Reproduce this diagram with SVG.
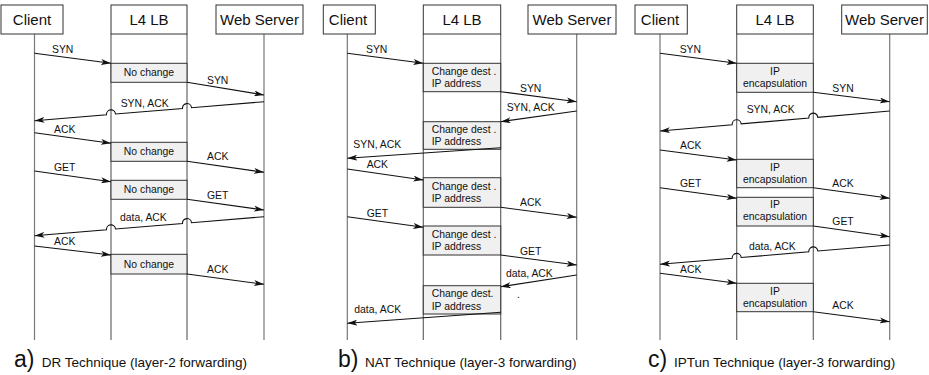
<svg xmlns="http://www.w3.org/2000/svg" width="929" height="375" viewBox="0 0 929 375">
<style>
text{font-family:"Liberation Sans",Arial,sans-serif;fill:#111}
.hd{font-size:15px;text-anchor:middle}
.lb{font-size:10.4px}
.bt{font-size:10.4px}
.c{text-anchor:middle}
.cap{font-size:13.5px}
.big{font-size:23px}
.hbox{fill:#fff;stroke:#333;stroke-width:1}
.pbox{fill:#f0f0f0;stroke:#333;stroke-width:1}
.life{stroke:#777;stroke-width:1.2;fill:none}
.col{stroke:#666;stroke-width:1.2;fill:none}
.msg{stroke:#111;stroke-width:1.1;fill:none;marker-end:url(#ah)}
</style>
<defs>
<marker id="ah" viewBox="0 0 10 6" refX="10" refY="3" markerWidth="10" markerHeight="6" markerUnits="userSpaceOnUse" orient="auto">
<path d="M0,0 L10,3 L0,6 L2.5,3 z" fill="#111"/>
</marker>
</defs>

<!-- Panel a -->
<g id="a-client"><line class="life" x1="34.5" y1="34" x2="34.5" y2="340"/><rect class="hbox" x="1" y="5" width="62" height="29"/><text class="hd" x="32" y="25.3">Client</text></g>
<g id="a-lb"><line class="col" x1="111" y1="34" x2="111" y2="340"/><line class="col" x1="187" y1="34" x2="187" y2="340"/><rect class="hbox" x="111" y="5" width="76" height="29"/><text class="hd" x="149" y="25.3">L4 LB</text></g>
<g id="a-server"><line class="life" x1="264" y1="34" x2="264" y2="340"/><rect class="hbox" x="216" y="5" width="87" height="29"/><text class="hd" x="259.5" y="25.3">Web Server</text></g>
<g id="a-p1"><rect class="pbox" x="111" y="63.3" width="76" height="19"/><text class="bt c" x="149" y="76.3">No change</text></g>
<g id="a-p2"><rect class="pbox" x="111" y="142.3" width="76" height="19"/><text class="bt c" x="149" y="155.3">No change</text></g>
<g id="a-p3"><rect class="pbox" x="111" y="180.3" width="76" height="19"/><text class="bt c" x="149" y="193.3">No change</text></g>
<g id="a-p4"><rect class="pbox" x="111" y="254.3" width="76" height="19.7"/><text class="bt c" x="149" y="267.6">No change</text></g>

<!-- Panel b -->
<g id="b-client"><line class="life" x1="347.3" y1="34" x2="347.3" y2="340"/><rect class="hbox" x="323.3" y="5" width="52" height="29"/><text class="hd" x="348" y="25.3">Client</text></g>
<g id="b-lb"><line class="col" x1="423.3" y1="34" x2="423.3" y2="340"/><line class="col" x1="500.7" y1="34" x2="500.7" y2="340"/><rect class="hbox" x="423.3" y="5" width="77.4" height="29"/><text class="hd" x="462" y="25.3">L4 LB</text></g>
<g id="b-server"><line class="life" x1="576.7" y1="34" x2="576.7" y2="340"/><rect class="hbox" x="528" y="5" width="88" height="29"/><text class="hd" x="572" y="25.3">Web Server</text></g>
<g id="b-p1"><rect class="pbox" x="423.3" y="63.3" width="77.4" height="28.4"/><text class="bt" x="431.7" y="75">Change dest .</text><text class="bt" x="431.7" y="87.2">IP address</text></g>
<g id="b-p2"><rect class="pbox" x="423.3" y="121.7" width="77.4" height="27.6"/><text class="bt" x="431.7" y="133">Change dest .</text><text class="bt" x="431.7" y="145.2">IP address</text></g>
<g id="b-p3"><rect class="pbox" x="423.3" y="177.7" width="77.4" height="29.6"/><text class="bt" x="431.7" y="189.8">Change dest .</text><text class="bt" x="431.7" y="202">IP address</text></g>
<g id="b-p4"><rect class="pbox" x="423.3" y="226" width="77.4" height="29"/><text class="bt" x="431.7" y="238">Change dest .</text><text class="bt" x="431.7" y="250.2">IP address</text></g>
<g id="b-p5"><rect class="pbox" x="423.3" y="285.7" width="77.4" height="28.3"/><text class="bt" x="431.7" y="297">Change dest.</text><text class="bt" x="431.7" y="310.2">IP address</text></g>

<!-- Panel c -->
<g id="c-client"><line class="life" x1="660" y1="34" x2="660" y2="340"/><rect class="hbox" x="635" y="5" width="52.3" height="29"/><text class="hd" x="660" y="25.3">Client</text></g>
<g id="c-lb"><line class="col" x1="736.7" y1="34" x2="736.7" y2="340"/><line class="col" x1="813.3" y1="34" x2="813.3" y2="340"/><rect class="hbox" x="736.7" y="5" width="76.6" height="29"/><text class="hd" x="775" y="25.3">L4 LB</text></g>
<g id="c-server"><line class="life" x1="889.7" y1="34" x2="889.7" y2="340"/><rect class="hbox" x="841.7" y="5" width="85.6" height="29"/><text class="hd" x="884.5" y="25.3">Web Server</text></g>
<g id="c-p1"><rect class="pbox" x="736.7" y="63.3" width="76.6" height="29"/><text class="bt c" x="775" y="75">IP</text><text class="bt c" x="775" y="87">encapsulation</text></g>
<g id="c-p2"><rect class="pbox" x="736.7" y="159.3" width="76.6" height="28.4"/><text class="bt c" x="775" y="170.7">IP</text><text class="bt c" x="775" y="183">encapsulation</text></g>
<g id="c-p3"><rect class="pbox" x="736.7" y="197.3" width="76.6" height="28.7"/><text class="bt c" x="775" y="208">IP</text><text class="bt c" x="775" y="220.2">encapsulation</text></g>
<g id="c-p4"><rect class="pbox" x="736.7" y="283.3" width="76.6" height="28.4"/><text class="bt c" x="775" y="295">IP</text><text class="bt c" x="775" y="307">encapsulation</text></g>

<g id="connectors">
<!-- a -->
<path class="msg" d="M34.5,53.3 L111,63.3"/>
<path class="msg" d="M187,82.3 L264,95"/>
<path class="msg" d="M264,101.7 L191.5,107.7 A4.5,4.5 0 0 0 182.5,108.5 L115.5,114 A4.5,4.5 0 0 0 106.5,114.8 L34.5,120.7"/>
<path class="msg" d="M34.5,132.7 L111,143.3"/>
<path class="msg" d="M187,161.3 L264,172.3"/>
<path class="msg" d="M34.5,171 L111,181.7"/>
<path class="msg" d="M187,199.3 L264,210"/>
<path class="msg" d="M264,216.7 L191.5,222.7 A4.5,4.5 0 0 0 182.5,223.5 L115.5,229 A4.5,4.5 0 0 0 106.5,229.8 L34.5,235.7"/>
<path class="msg" d="M34.5,246 L111,255"/>
<path class="msg" d="M187,274 L264,284.3"/>
<!-- b -->
<path class="msg" d="M347.3,53.3 L423.3,63.3"/>
<path class="msg" d="M500.7,91.7 L576.7,101.7"/>
<path class="msg" d="M576.7,111 L500.7,121.7"/>
<path class="msg" d="M500.7,147.7 L347.3,158.3"/>
<path class="msg" d="M347.3,169 L423.3,180"/>
<path class="msg" d="M500.7,207.3 L576.7,217.3"/>
<path class="msg" d="M347.3,216.7 L423.3,227.3"/>
<path class="msg" d="M500.7,255 L576.7,265"/>
<path class="msg" d="M576.7,275 L500.7,286.7"/>
<path class="msg" d="M500.7,312.3 L347.3,323.3"/>
<!-- c -->
<path class="msg" d="M660,53.3 L736.7,63.3"/>
<path class="msg" d="M813.3,92.3 L889.7,101.7"/>
<path class="msg" d="M889.7,111 L817.8,117.3 A4.5,4.5 0 0 0 808.8,118 L741.2,123.9 A4.5,4.5 0 0 0 732.2,124.7 L660,131"/>
<path class="msg" d="M660,150 L736.7,160"/>
<path class="msg" d="M813.3,187.7 L889.7,198.3"/>
<path class="msg" d="M660,187.7 L736.7,198.3"/>
<path class="msg" d="M813.3,226 L889.7,236.7"/>
<path class="msg" d="M889.7,245 L817.8,251 A4.5,4.5 0 0 0 808.8,251.8 L741.2,257.5 A4.5,4.5 0 0 0 732.2,258.3 L660,264.3"/>
<path class="msg" d="M660,273.3 L736.7,283.3"/>
<path class="msg" d="M813.3,311.7 L889.7,321.7"/>
</g>

<g id="labels">
<text class="lb" x="52" y="52.5">SYN</text>
<text class="lb" x="207" y="84">SYN</text>
<text class="lb" x="120.7" y="106.5">SYN, ACK</text>
<text class="lb" x="54" y="132.5">ACK</text>
<text class="lb" x="207" y="160">ACK</text>
<text class="lb" x="54" y="170.5">GET</text>
<text class="lb" x="207" y="199">GET</text>
<text class="lb" x="120" y="220.5">data, ACK</text>
<text class="lb" x="54" y="245">ACK</text>
<text class="lb" x="207" y="273">ACK</text>

<text class="lb" x="366" y="53">SYN</text>
<text class="lb" x="520" y="91.5">SYN</text>
<text class="lb" x="506.7" y="110.5">SYN, ACK</text>
<text class="lb" x="353.3" y="148">SYN, ACK</text>
<text class="lb" x="366.7" y="168">ACK</text>
<text class="lb" x="520" y="206">ACK</text>
<text class="lb" x="366.7" y="216.5">GET</text>
<text class="lb" x="520" y="255">GET</text>
<text class="lb" x="506" y="276.5">data, ACK</text>
<text class="lb" x="517" y="297.5">.</text>
<text class="lb" x="354.3" y="312.5">data, ACK</text>

<text class="lb" x="679.7" y="53">SYN</text>
<text class="lb" x="832.3" y="91.5">SYN</text>
<text class="lb" x="746.7" y="113">SYN, ACK</text>
<text class="lb" x="680" y="149.3">ACK</text>
<text class="lb" x="832.3" y="186.7">ACK</text>
<text class="lb" x="680" y="186.7">GET</text>
<text class="lb" x="832.3" y="225">GET</text>
<text class="lb" x="749" y="250">data, ACK</text>
<text class="lb" x="680" y="273.3">ACK</text>
<text class="lb" x="832.3" y="309.3">ACK</text>
</g>

<g id="captions">
<text class="big" x="14" y="367">a)</text><text class="cap" x="41.7" y="367">DR Technique (layer-2 forwarding)</text>
<text class="big" x="338" y="367">b)</text><text class="cap" x="365" y="367">NAT Technique (layer-3 forwarding)</text>
<text class="big" x="648" y="367">c)</text><text class="cap" x="674" y="367">IPTun Technique (layer-3 forwarding)</text>
</g>
</svg>
